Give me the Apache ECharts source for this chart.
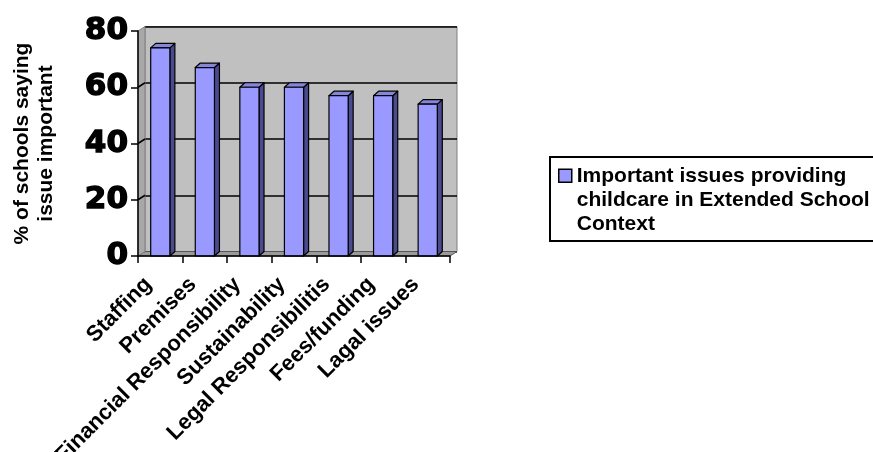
<!DOCTYPE html>
<html>
<head>
<meta charset="utf-8">
<title>Important issues providing childcare</title>
<script src="https://cdn.jsdelivr.net/npm/echarts@6/dist/echarts.min.js"></script>
<style>
  html, body { margin: 0; padding: 0; background: #ffffff; overflow: hidden; }
  #chart { width: 873px; height: 452px; }
</style>
</head>
<body>
<div id="chart"></div>
<script>
// Survey results: share of schools rating each issue as important
const categories = ['Staffing', 'Premises', 'Financial Responsibility', 'Sustainability',
  'Legal Responsibilitis', 'Fees/funding', 'Lagal issues'];
const percentImportant = [74, 67, 60, 60, 57, 57, 54];
const yTicks = [0, 20, 40, 60, 80];
const legendLines = ['Important issues providing', 'childcare in Extended School', 'Context'];
const seriesName = legendLines.join(' ');
const yTitle = ['% of schools saying', 'issue important'];

// Layout of the pseudo-3D plot box
const FRONT = { left: 138, top: 31, width: 312, height: 225 };
const WALL_DX = 7, WALL_DY = -4.5;     // back wall offset
const BAR_DX = 5, BAR_DY = -4.5;       // bar depth offset
const LEGEND_BOX = { left: 550, top: 157, right: 920, bottom: 241 };
const TXT = "'Liberation Sans', Arial, Helvetica, sans-serif";

const chart = echarts.init(document.getElementById('chart'), null, { renderer: 'canvas' });

function renderBar(params, api) {
  const idx = api.value(0);
  const v = api.value(1);
  const base = api.coord([idx, 0]);
  const top = api.coord([idx, v]);
  const bw = api.size([1, 0])[0] * 0.43;
  const xl = top[0] - bw / 2, xr = top[0] + bw / 2;
  const yt = top[1], yb = base[1];
  const line = { stroke: '#000000', lineWidth: 1.2, lineJoin: 'round' };
  return {
    type: 'group',
    children: [
      { type: 'polygon', shape: { points: [[xr, yt], [xr + BAR_DX, yt + BAR_DY], [xr + BAR_DX, yb + BAR_DY], [xr, yb]] },
        style: Object.assign({ fill: '#4a4a8f' }, line) },
      { type: 'polygon', shape: { points: [[xl, yt], [xl + BAR_DX, yt + BAR_DY], [xr + BAR_DX, yt + BAR_DY], [xr, yt]] },
        style: Object.assign({ fill: '#8585dd' }, line) },
      { type: 'rect', shape: { x: xl, y: yt, width: bw, height: yb - yt },
        style: Object.assign({ fill: '#9999ff' }, line) }
    ]
  };
}

const option = {
  backgroundColor: '#ffffff',
  animation: false,
  textStyle: { fontFamily: TXT },
  grid: [
    { left: FRONT.left, top: FRONT.top, width: FRONT.width, height: FRONT.height,
      containLabel: false, outerBoundsMode: 'none' },
    { left: FRONT.left + WALL_DX, top: FRONT.top + WALL_DY, width: FRONT.width, height: FRONT.height,
      containLabel: false, outerBoundsMode: 'none',
      show: true, backgroundColor: '#c0c0c0', borderColor: '#808080', borderWidth: 1, z: -1 }
  ],
  legend: {
    orient: 'vertical',
    left: LEGEND_BOX.left,
    top: LEGEND_BOX.top,
    padding: [6, 10, 6, 8],
    itemWidth: 13,
    itemHeight: 72,
    itemGap: 0,
    data: [{
      name: seriesName,
      icon: 'path://M0,0M0,5.5H13V18.5H0ZM0,72',
      itemStyle: { color: '#9999ff', borderColor: '#000000', borderWidth: 1.5 }
    }],
    formatter: () => legendLines.join('\n'),
    textStyle: { fontFamily: TXT, fontWeight: 'bold', fontSize: 21, lineHeight: 24, color: '#000000' },
    z: 4
  },
  xAxis: [
    {
      type: 'category', gridIndex: 0, data: categories, boundaryGap: true,
      axisLine: { lineStyle: { color: '#000000', width: 1.5 } },
      axisTick: { show: true, length: 7, inside: false, alignWithLabel: false, lineStyle: { color: '#000000', width: 1.5 } },
      axisLabel: { interval: 0, rotate: 45, margin: 30, verticalAlign: 'bottom', padding: [0, 5, 0, 0],
        color: '#000000', fontFamily: TXT, fontWeight: 'bold', fontSize: 22, lineHeight: 24 },
      z: 5
    },
    { type: 'category', gridIndex: 1, data: categories, show: false }
  ],
  yAxis: [
    {
      type: 'value', gridIndex: 0, min: 0, max: 80, interval: 20,
      name: yTitle.join('\n'), nameLocation: 'middle', nameRotate: 90, nameGap: 80,
      nameTextStyle: { fontFamily: TXT, fontWeight: 'bold', fontSize: 21, lineHeight: 24, color: '#000000' },
      axisLine: { show: true, lineStyle: { color: '#000000', width: 1.5 } },
      axisTick: { show: true, length: 7, inside: false, lineStyle: { color: '#000000', width: 1.5 } },
      axisLabel: { margin: 10, color: '#000000', fontFamily: "'DejaVu Sans', sans-serif",
        fontWeight: 'bold', fontSize: 31, textBorderColor: '#000000', textBorderWidth: 1.4,
        formatter: v => (yTicks.includes(v) ? String(v) : '') },
      splitLine: { show: false },
      z: 5
    },
    {
      type: 'value', gridIndex: 1, min: 0, max: 80, interval: 20,
      axisLine: { show: false }, axisTick: { show: false }, axisLabel: { show: false },
      splitLine: { show: true, lineStyle: { color: '#000000', width: 1.5 } }
    }
  ],
  series: [{
    name: seriesName,
    type: 'custom',
    xAxisIndex: 0,
    yAxisIndex: 0,
    renderItem: renderBar,
    itemStyle: { color: '#9999ff' },
    encode: { x: 0, y: 1 },
    data: percentImportant.map((v, i) => [i, v]),
    z: 3
  }]
};

chart.setOption(option);

// Floor, left side wall and the wall edges of the gridlines, placed with the axis scales
const yPix = v => chart.convertToPixel({ yAxisIndex: 0 }, v);
const x0 = FRONT.left, x1 = FRONT.left + FRONT.width;
const yBase = yPix(0), yTop = yPix(80);
const L = LEGEND_BOX;
const deco = [
  { type: 'polygon', z: 1, shape: { points: [[x0, yBase], [x0 + WALL_DX, yBase + WALL_DY], [x1 + WALL_DX, yBase + WALL_DY], [x1, yBase]] },
    style: { fill: '#9a9a9a', stroke: '#555555', lineWidth: 1 } },
  { type: 'polygon', z: 1, shape: { points: [[x0, yBase], [x0, yTop], [x0 + WALL_DX, yTop + WALL_DY], [x0 + WALL_DX, yBase + WALL_DY]] },
    style: { fill: '#a8a8a8', stroke: '#808080', lineWidth: 1 } },
  // legend frame: open on the right, where it runs past the page edge
  { type: 'polyline', z: 3, shape: { points: [[L.right, L.top], [L.left, L.top], [L.left, L.bottom], [L.right, L.bottom]] },
    style: { fill: null, stroke: '#000000', lineWidth: 2 } }
];
yTicks.filter(v => v > 0 && v < 80).forEach(v => {
  const y = yPix(v);
  deco.push({ type: 'line', z: 2, shape: { x1: x0, y1: y, x2: x0 + WALL_DX, y2: y + WALL_DY },
    style: { stroke: '#000000', lineWidth: 1.5 } });
});
chart.setOption({ graphic: deco });
</script>
</body>
</html>
